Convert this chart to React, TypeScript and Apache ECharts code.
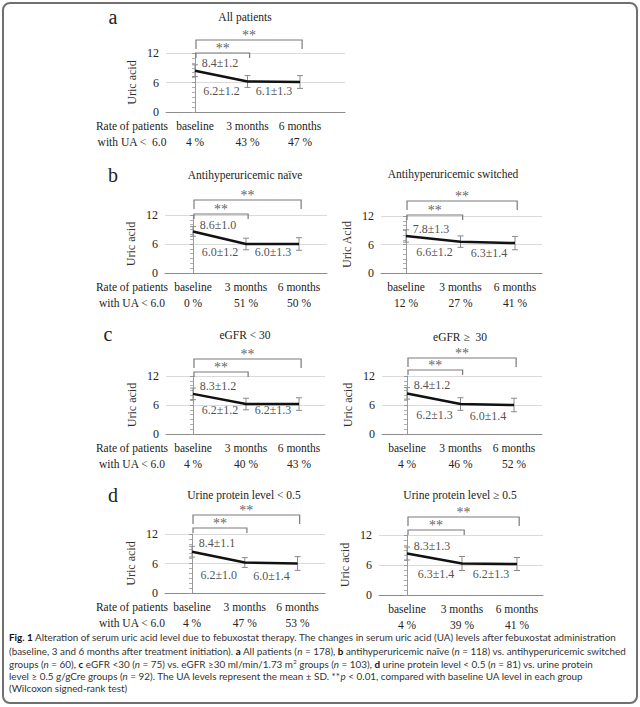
import React, { useEffect, useRef } from 'react';
import * as echarts from 'echarts';

// ---------- data ----------
const timepoints = ['baseline', '3 months', '6 months'];
const yTicks = [0, 6, 12];

const meanAll = [8.4, 6.2, 6.1];
const sdAll = [1.2, 1.2, 1.3];
const rateAll = [4, 43, 47];

const meanNaive = [8.6, 6.0, 6.0];
const sdNaive = [1.0, 1.2, 1.3];
const rateNaive = [0, 51, 50];

const meanSwitched = [7.8, 6.6, 6.3];
const sdSwitched = [1.3, 1.2, 1.4];
const rateSwitched = [12, 27, 41];

const meanEgfrLow = [8.3, 6.2, 6.2];
const sdEgfrLow = [1.2, 1.2, 1.3];
const rateEgfrLow = [4, 40, 43];

const meanEgfrHigh = [8.4, 6.2, 6.0];
const sdEgfrHigh = [1.2, 1.3, 1.4];
const rateEgfrHigh = [4, 46, 52];

const meanUpLow = [8.4, 6.2, 6.0];
const sdUpLow = [1.1, 1.0, 1.4];
const rateUpLow = [4, 47, 53];

const meanUpHigh = [8.3, 6.3, 6.2];
const sdUpHigh = [1.3, 1.4, 1.3];
const rateUpHigh = [4, 39, 41];

// significance comparisons (index pairs) vs baseline
const sigPairs = [[0, 2], [0, 1]];
const sigMark = '**';

const SERIF = 'Liberation Serif';
const SANS = 'Lato';

type Panel = {
  title: string; mean: number[]; sd: number[]; rate: number[]; yName: string;
  left: number; top: number; width: number; height: number; xMin: number; xMax: number;
  titleX: number; titleY: number; rateLabel: string | null; bracketDy: number[]; labelDy: number[];
};

const panels: Panel[] = [
  { title: 'All patients', mean: meanAll, sd: sdAll, rate: rateAll, yName: 'Uric acid',
    left: 166, top: 53, width: 179, height: 59, xMin: -0.552, xMax: 2.857,
    titleX: 245, titleY: 17, rateLabel: 'Rate of patients\nwith UA <  6.0', bracketDy: [-13, 0], labelDy: [-8, 9] },
  { title: 'Antihyperuricemic naïve', mean: meanNaive, sd: sdNaive, rate: rateNaive, yName: 'Uric acid',
    left: 165, top: 215, width: 162, height: 58, xMin: -0.528, xMax: 2.528,
    titleX: 245, titleY: 175, rateLabel: 'Rate of patients\nwith UA < 6.0', bracketDy: [-15, -1], labelDy: [-6, 8] },
  { title: 'Antihyperuricemic switched', mean: meanSwitched, sd: sdSwitched, rate: rateSwitched, yName: 'Uric Acid',
    left: 381, top: 216, width: 161, height: 57, xMin: -0.459, xMax: 2.495,
    titleX: 453, titleY: 174, rateLabel: null, bracketDy: [-15, -1], labelDy: [-7, 10] },
  { title: 'eGFR < 30', mean: meanEgfrLow, sd: sdEgfrLow, rate: rateEgfrLow, yName: 'Uric acid',
    left: 166, top: 376, width: 159, height: 58, xMin: -0.509, xMax: 2.49,
    titleX: 245, titleY: 335, rateLabel: 'Rate of patients\nwith UA < 6.0', bracketDy: [-17, -4], labelDy: [-8, 6] },
  { title: 'eGFR ≥  30', mean: meanEgfrHigh, sd: sdEgfrHigh, rate: rateEgfrHigh, yName: 'Uric acid',
    left: 382, top: 376, width: 160, height: 58, xMin: -0.467, xMax: 2.523,
    titleX: 460, titleY: 337, rateLabel: null, bracketDy: [-18, -6], labelDy: [-8, 11] },
  { title: 'Urine protein level < 0.5', mean: meanUpLow, sd: sdUpLow, rate: rateUpLow, yName: 'Uric acid',
    left: 165, top: 534, width: 160, height: 59, xMin: -0.512, xMax: 2.52,
    titleX: 244, titleY: 495, rateLabel: 'Rate of patients\nwith UA < 6.0', bracketDy: [-19, -6], labelDy: [-9, 12] },
  { title: 'Urine protein level ≥ 0.5', mean: meanUpHigh, sd: sdUpHigh, rate: rateUpHigh, yName: 'Uric acid',
    left: 379, top: 535, width: 164, height: 60, xMin: -0.509, xMax: 2.473,
    titleX: 460, titleY: 495, rateLabel: null, bracketDy: [-18, -5], labelDy: [-8, 10] },
];

const panelLetters = [
  { t: 'a', x: 113, y: 17 }, { t: 'b', x: 113, y: 175 }, { t: 'c', x: 108, y: 334 }, { t: 'd', x: 113, y: 495 },
];

const captionLines = [
  '{b|Fig. 1} Alteration of serum uric acid level due to febuxostat therapy. The changes in serum uric acid (UA) levels after febuxostat administration',
  '(baseline, 3 and 6 months after treatment initiation). {b|a} All patients ({i|n} = 178), {b|b} antihyperuricemic naïve ({i|n} = 118) vs. antihyperuricemic switched',
  'groups ({i|n} = 60), {b|c} eGFR <30 ({i|n} = 75) vs. eGFR ≥30 ml/min/1.73 m{sup|2} groups ({i|n} = 103), {b|d} urine protein level < 0.5 ({i|n} = 81) vs. urine protein',
  'level ≥ 0.5 g/gCre groups ({i|n} = 92). The UA levels represent the mean ± SD. **{i|p} < 0.01, compared with baseline UA level in each group',
  '(Wilcoxon signed-rank test)',
];
const captionY = [637, 651, 664, 676, 688];

export default function App() {
  const ref = useRef<HTMLDivElement>(null);
  useEffect(() => {
    if (!ref.current) return;
    const chart = echarts.init(ref.current, undefined, { renderer: 'svg' });

    const grid = panels.map((p) => ({ left: p.left, top: p.top, width: p.width, height: p.height }));
    const xAxis = panels.map((p, i) => ({
      type: 'value', gridIndex: i, min: p.xMin, max: p.xMax,
      axisLine: { show: true, lineStyle: { color: '#8c8c8c', width: 1 } },
      axisTick: { show: false }, splitLine: { show: false },
      axisLabel: {
        customValues: [0, 1, 2],
        formatter: (v: number) => `${timepoints[Math.round(v)]}\n${p.rate[Math.round(v)]} %`,
        fontFamily: SERIF, fontSize: 11.5, color: '#222', lineHeight: 16, margin: 6,
      },
    }));
    const yAxis = panels.map((p, i) => ({
      type: 'value', gridIndex: i, min: yTicks[0], max: yTicks[2], interval: yTicks[1] - yTicks[0],
      name: p.yName, nameLocation: 'middle', nameGap: 28, nameRotate: 90,
      nameTextStyle: { fontFamily: SERIF, fontSize: 12, color: '#333' },
      axisLine: { show: true, lineStyle: { color: '#9a9a9a' } },
      axisTick: { show: true, length: 3, lineStyle: { color: '#9a9a9a' } },
      minorTick: { show: true, splitNumber: 6, length: 3, lineStyle: { color: '#b0b0b0' } },
      splitLine: { show: true, lineStyle: { color: '#dadada' } },
      axisLabel: { fontFamily: SERIF, fontSize: 12, color: '#222', margin: 7 },
    }));

    const series: any[] = [];
    panels.forEach((p, i) => {
      series.push({
        type: 'line', xAxisIndex: i, yAxisIndex: i, symbol: 'none', z: 4,
        data: p.mean.map((m, k) => [k, m]),
        lineStyle: { color: '#111', width: 2.5 },
      });
      series.push({
        type: 'custom', xAxisIndex: i, yAxisIndex: i, z: 3,
        encode: { x: 0, y: [1, 2] },
        data: p.mean.map((m, k) => [k, m - p.sd[k], m + p.sd[k]]),
        renderItem: (params: any, api: any) => {
          const x = api.value(0);
          const lo = api.coord([x, api.value(1)]);
          const hi = api.coord([x, api.value(2)]);
          const c = 3;
          const st = { stroke: '#8a8a8a', lineWidth: 1 };
          return {
            type: 'group', children: [
              { type: 'line', shape: { x1: lo[0], y1: lo[1], x2: hi[0], y2: hi[1] }, style: st },
              { type: 'line', shape: { x1: lo[0] - c, y1: lo[1], x2: lo[0] + c, y2: lo[1] }, style: st },
              { type: 'line', shape: { x1: hi[0] - c, y1: hi[1], x2: hi[0] + c, y2: hi[1] }, style: st },
            ],
          };
        },
      });
      series.push({
        type: 'scatter', xAxisIndex: i, yAxisIndex: i, symbolSize: 1, z: 5,
        itemStyle: { color: 'transparent' },
        data: p.mean.map((m, k) => ({
          value: [k, m],
          label: {
            show: true, position: 'inside',
            offset: k === 0 ? [25, p.labelDy[0]] : [-26, p.labelDy[1]],
            formatter: `${m.toFixed(1)}±${p.sd[k].toFixed(1)}`,
            fontFamily: SERIF, fontSize: 12, lineHeight: 10, color: '#222',
          },
        })),
      });
      series.push({
        type: 'custom', xAxisIndex: i, yAxisIndex: i, z: 2,
        encode: { x: [0, 1], y: 2 },
        data: sigPairs.map((pr, j) => [pr[0], pr[1], yTicks[2], p.bracketDy[j], j === 0 ? 9 : 5]),
        renderItem: (params: any, api: any) => {
          const a = api.coord([api.value(0), api.value(2)]);
          const b = api.coord([api.value(1) + 0.04, api.value(2)]);
          const top = a[1] + api.value(3);
          const leg = api.value(4);
          const ax = a[0] + 1;
          return {
            type: 'group', children: [
              { type: 'polyline', shape: { points: [[ax, top + leg], [ax, top], [b[0], top], [b[0], top + leg]] },
                style: { stroke: '#7a7a7a', fill: 'none', lineWidth: 1.2 } },
              { type: 'text', x: (ax + b[0]) / 2, y: top + 1,
                style: { text: sigMark, fontFamily: SERIF, fontSize: 14, lineHeight: 12, fill: '#666', align: 'center', verticalAlign: 'bottom' } },
            ],
          };
        },
      });
    });

    const graphic: any[] = [
      { type: 'rect', shape: { x: 3, y: 3, width: 634, height: 700, r: 7 },
        style: { fill: 'none', stroke: '#707070', lineWidth: 2 }, z: 0 },
    ];
    panelLetters.forEach((l) => graphic.push({
      type: 'text', x: l.x, y: l.y,
      style: { text: l.t, fontFamily: SERIF, fontSize: 20, fill: '#222', align: 'center', verticalAlign: 'middle' },
    }));
    panels.forEach((p) => {
      graphic.push({
        type: 'text', x: p.titleX, y: p.titleY,
        style: { text: p.title, fontFamily: SERIF, fontSize: 11.5, fill: '#222', align: 'center', verticalAlign: 'middle' },
      });
      if (p.rateLabel) {
        graphic.push({
          type: 'text', x: 132, y: p.top + p.height + 6,
          style: { text: p.rateLabel, fontFamily: SERIF, fontSize: 11.5, lineHeight: 16, fill: '#222', align: 'center', verticalAlign: 'top' },
        });
      }
    });
    const capBase = { fontFamily: SANS, fontSize: 9.9, fill: '#333' };
    captionLines.forEach((line, k) => graphic.push({
      type: 'text', x: 9, y: captionY[k],
      style: {
        text: line, ...capBase, align: 'left', verticalAlign: 'middle',
        rich: {
          b: { ...capBase, fontWeight: 'bold', fill: '#111' },
          i: { ...capBase, fontStyle: 'italic' },
          sup: { ...capBase, fontSize: 6, verticalAlign: 'top', padding: [0, 0, 5, 0] },
        },
      },
    }));

    chart.setOption({
      animation: false,
      backgroundColor: '#ffffff',
      grid, xAxis, yAxis, series, graphic,
    });
    return () => chart.dispose();
  }, []);
  return <div ref={ref} style={{ position: 'absolute', left: 0, top: 0, width: 640, height: 707 }} />;
}
